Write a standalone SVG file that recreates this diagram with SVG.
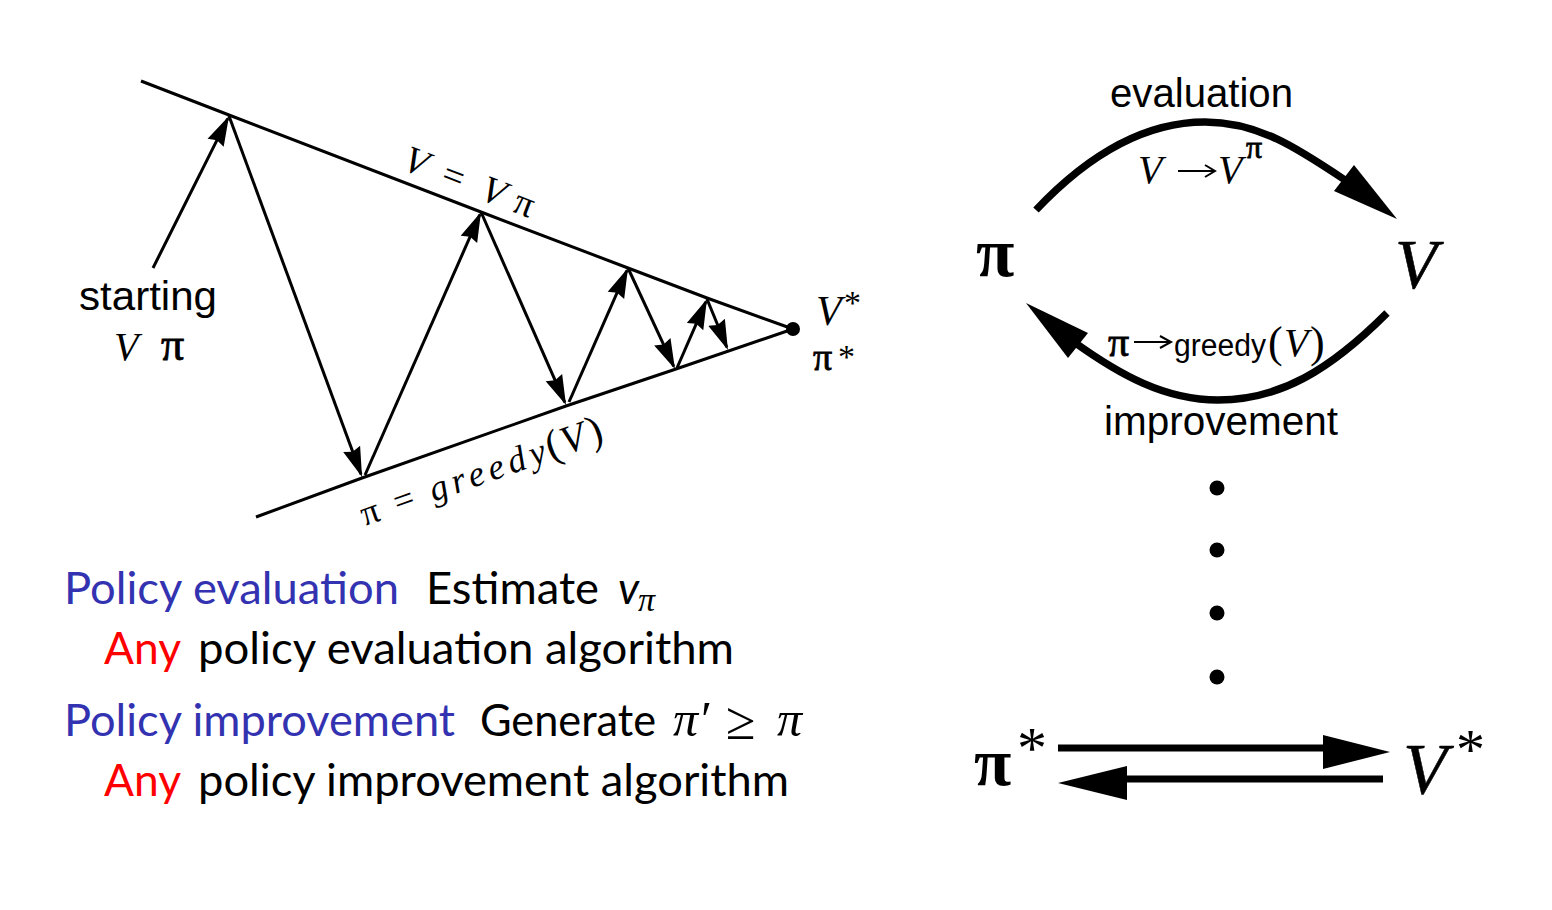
<svg xmlns="http://www.w3.org/2000/svg" width="1552" height="910" viewBox="0 0 1552 910">
<style>
.serif{font-family:"Liberation Serif","Times New Roman",serif}
.it{font-family:"Liberation Serif","Times New Roman",serif;font-style:italic}
.sans{font-family:"Liberation Sans",Arial,sans-serif}
.cm{font-family:Lato,"Liberation Sans",sans-serif;font-size:44px}
.thin{fill:none;stroke:#000;stroke-width:3}
.heavy{fill:none;stroke:#000;stroke-width:7.5}
.bar{fill:none;stroke:#000;stroke-width:7}
.fine{fill:none;stroke:#000;stroke-width:2}
text{fill:#000}
.pi{stroke:#000;stroke-width:.8}
.blue{fill:#3333b2}.red{fill:#ff0000}
</style>
<defs>
<marker id="head" markerUnits="userSpaceOnUse" markerWidth="34" markerHeight="22" viewBox="0 0 34 22" refX="27" refY="11" orient="auto"><path d="M0,2 L30,11 L0,20 L3,11 Z" fill="#000"/></marker>
</defs>
<rect width="1552" height="910" fill="#fff"/>
<g id="connectors">
<path class="thin" d="M141,81 L229,115 L481,212 L628,268 L707,298 L793,329"/>
<path class="thin" d="M256,517 L362,478 L566,406 L676,369 L793,329"/>
<path class="thin" marker-end="url(#head)" d="M153,268 L227.7,118.7"/>
<path class="thin" marker-end="url(#head)" d="M229,116 L361,474.2"/>
<path class="thin" marker-end="url(#head)" d="M365,475 L479.8,214.7"/>
<path class="thin" marker-end="url(#head)" d="M481,212 L564.8,402.3"/>
<path class="thin" marker-end="url(#head)" d="M569,402 L626.8,270.7"/>
<path class="thin" marker-end="url(#head)" d="M628,268 L673.7,366.3"/>
<path class="thin" marker-end="url(#head)" d="M677,368 L705.8,301.8"/>
<path class="thin" marker-end="url(#head)" d="M707,299 L726.8,347.2"/>
<path class="heavy" d="M1036,210 C1088,155 1145,122 1205,122 C1260,122 1300,150 1348,182"/>
<path d="M1397,219 L1354,165 L1334,191 Z" fill="#000"/>
<path class="heavy" d="M1387,313 C1330,370 1280,400 1218,400 C1165,400 1120,375 1074,342"/>
<path d="M1026,303 L1088,333 L1068,358 Z" fill="#000"/>
<path class="bar" d="M1058,748 L1330,748"/>
<path d="M1390,752 L1323,735 L1323,769 Z" fill="#000"/>
<path class="bar" d="M1383,779 L1120,779"/>
<path d="M1058,783 L1127,766 L1127,800 Z" fill="#000"/>
<path class="fine" d="M1178,171 H1214 M1205,165 L1215,171 L1205,177"/>
<path class="fine" d="M1134,342 H1170 M1160,336 L1171,342 L1160,348"/>
</g>
<g id="node-start">
<text class="sans" x="79" y="310" font-size="40" textLength="138" lengthAdjust="spacingAndGlyphs">starting</text>
<text class="it" x="114" y="360" font-size="40">V</text>
<text class="serif pi" x="161" y="360" font-size="46">π</text>
</g>
<g id="label-v-eq">
<text class="serif" transform="translate(401,169) rotate(21)" font-size="38"><tspan class="it">V</tspan><tspan x="41" y="0">=</tspan><tspan class="it" x="83" y="0">V</tspan><tspan x="118" y="0">π</tspan></text>
</g>
<g id="label-pi-eq">
<text class="serif" transform="translate(365,526) rotate(-19.5)" font-size="36"><tspan>π</tspan><tspan x="35" y="0">=</tspan><tspan class="it" x="73" y="0" letter-spacing="5">greedy</tspan><tspan x="197" y="0" font-size="42">(</tspan><tspan class="it" x="213" y="0" font-size="40">V</tspan><tspan x="241" y="0" font-size="42">)</tspan></text>
</g>
<g id="node-converged">
<circle cx="793" cy="329" r="7" fill="#000"/>
<text class="it" x="816" y="325" font-size="42">V</text>
<text class="serif" x="844" y="314" font-size="34">*</text>
<text class="serif pi" x="813" y="370" font-size="38">π</text>
<text class="serif" x="838" y="368" font-size="34">*</text>
</g>
<g id="node-policy-evaluation">
<text class="cm blue" x="64" y="604" textLength="335" lengthAdjust="spacingAndGlyphs">Policy evaluation</text>
<text class="cm" x="426" y="604" textLength="173" lengthAdjust="spacingAndGlyphs">Estimate</text>
<text class="cm" x="618" y="604" font-style="italic">v</text>
<text class="serif" x="638" y="611" font-size="34" font-style="italic">π</text>
<text class="cm red" x="104" y="664" textLength="77" lengthAdjust="spacingAndGlyphs">Any</text>
<text class="cm" x="198" y="664" textLength="536" lengthAdjust="spacingAndGlyphs">policy evaluation algorithm</text>
</g>
<g id="node-policy-improvement">
<text class="cm blue" x="64" y="736" textLength="391" lengthAdjust="spacingAndGlyphs">Policy improvement</text>
<text class="cm" x="480" y="736" textLength="176" lengthAdjust="spacingAndGlyphs">Generate</text>
<text class="serif" x="673" y="736" font-size="50" font-style="italic">π′</text>
<text class="serif" x="726" y="739" font-size="54">≥</text>
<text class="serif" x="777" y="736" font-size="50" font-style="italic">π</text>
<text class="cm red" x="104" y="796" textLength="77" lengthAdjust="spacingAndGlyphs">Any</text>
<text class="cm" x="198" y="796" textLength="591" lengthAdjust="spacingAndGlyphs">policy improvement algorithm</text>
</g>
<g id="node-pi">
<text class="serif" x="976" y="276" font-size="70" font-weight="bold">π</text>
</g>
<g id="node-v">
<text class="it" x="1395" y="288" font-size="69" stroke="#000" stroke-width=".6">V</text>
</g>
<g id="label-evaluation">
<text class="sans" x="1110" y="107" font-size="40" textLength="183" lengthAdjust="spacingAndGlyphs">evaluation</text>
<text class="it" x="1138" y="183" font-size="40">V</text>
<text class="it" x="1218" y="183" font-size="40">V</text>
<text class="serif pi" x="1246" y="158" font-size="32">π</text>
</g>
<g id="label-improvement">
<text class="serif pi" x="1108" y="356" font-size="42">π</text>
<text class="sans" x="1174" y="356" font-size="31" textLength="92" lengthAdjust="spacingAndGlyphs">greedy</text>
<text class="serif" x="1268" y="357" font-size="44">(</text>
<text class="it" x="1284" y="356" font-size="40">V</text>
<text class="serif" x="1310" y="357" font-size="44">)</text>
<text class="sans" x="1104" y="435" font-size="40" textLength="234" lengthAdjust="spacingAndGlyphs">improvement</text>
</g>
<g id="dots">
<circle cx="1217" cy="488" r="7.5" fill="#000"/>
<circle cx="1217" cy="550" r="7.5" fill="#000"/>
<circle cx="1217" cy="613" r="7.5" fill="#000"/>
<circle cx="1217" cy="677" r="7.5" fill="#000"/>
</g>
<g id="node-pi-star">
<text class="serif" x="974" y="785" font-size="68" font-weight="bold">π</text>
<text class="serif" x="1017" y="768" font-size="60">*</text>
</g>
<g id="node-v-star">
<text class="it" x="1403" y="793" font-size="72" stroke="#000" stroke-width=".5">V</text>
<text class="serif" x="1456" y="769" font-size="58">*</text>
</g>
</svg>
